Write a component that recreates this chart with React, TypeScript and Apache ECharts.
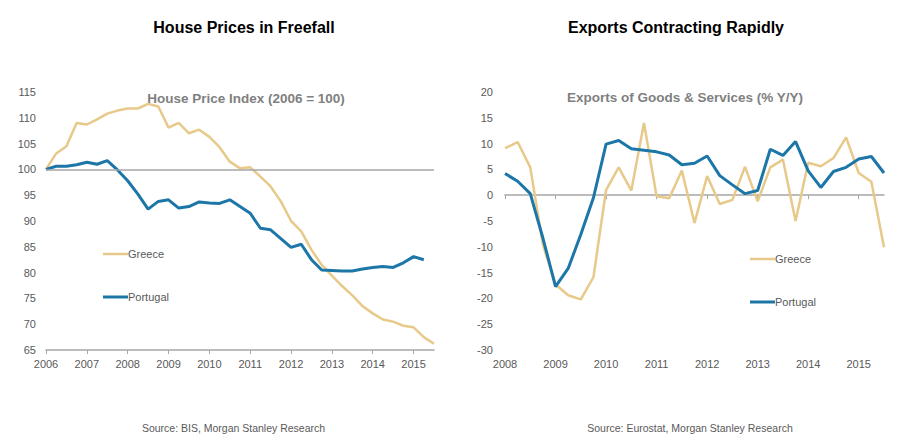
import { useEffect, useRef } from "react";
import * as echarts from "echarts";

// ---- Data ----
const QUARTERS = ["Q1", "Q2", "Q3", "Q4"];
const houseStartYear = 2006;
const exportStartYear = 2008;

// House Price Index (2006 = 100), quarterly from 2006 Q1
const greeceHouse = [
  100, 103.1, 104.5, 109.0, 108.7, 109.7, 110.8, 111.4, 111.8, 111.8, 112.7, 112.2,
  108.1, 109.0, 107.0, 107.7, 106.3, 104.3, 101.5, 100.2, 100.4, 98.6, 96.7, 93.8,
  90.0, 88.0, 84.4, 81.5, 79.4, 77.4, 75.6, 73.5, 72.1, 70.9, 70.5, 69.7, 69.4, 67.5, 66.2,
];
const portugalHouse = [
  100, 100.6, 100.6, 100.9, 101.4, 101.0, 101.7, 99.9, 97.8, 95.2, 92.3, 93.8,
  94.1, 92.5, 92.8, 93.7, 93.5, 93.4, 94.1, 92.8, 91.5, 88.6, 88.3, 86.6,
  84.9, 85.5, 82.5, 80.5, 80.4, 80.3, 80.3, 80.7, 81.0, 81.2, 81.0, 81.9, 83.1, 82.5,
];

// Exports of Goods & Services (% Y/Y), quarterly from 2008 Q1
const greeceExports = [
  9.1, 10.3, 5.4, -9.6, -17.3, -19.4, -20.2, -15.9, 1.0, 5.4, 0.9, 14.0,
  -0.2, -0.6, 4.8, -5.4, 3.7, -1.7, -0.9, 5.5, -1.2, 5.4, 6.9, -5.0,
  6.3, 5.6, 7.2, 11.2, 4.3, 2.6, -10.1,
];
const portugalExports = [
  4.2, 2.7, 0.3, -8.3, -17.7, -14.2, -7.6, -0.5, 9.9, 10.6, 9.0, 8.7,
  8.4, 7.8, 5.9, 6.2, 7.6, 3.8, 2.0, 0.3, 0.9, 8.9, 7.7, 10.4,
  4.7, 1.5, 4.6, 5.4, 7.0, 7.5, 4.3,
];

const seriesNames = ["Greece", "Portugal"];
const houseTitle = "House Prices in Freefall";
const exportTitle = "Exports Contracting Rapidly";
const houseSubtitle = "House Price Index (2006 = 100)";
const exportSubtitle = "Exports of Goods & Services (% Y/Y)";
const houseSource = "Source: BIS, Morgan Stanley Research";
const exportSource = "Source: Eurostat, Morgan Stanley Research";

function buildQuarters(startYear: number, count: number): string[] {
  const out: string[] = [];
  for (let i = 0; i < count; i++) {
    out.push(`${startYear + Math.floor(i / 4)} ${QUARTERS[i % 4]}`);
  }
  return out;
}

const houseCats = buildQuarters(houseStartYear, greeceHouse.length);
const exportCats = buildQuarters(exportStartYear, greeceExports.length);

const GREECE = "#E7C98A";
const PORTUGAL = "#1C76A8";
const AXIS = "#A6A6A6";
const LABEL = "#595959";
const FONT = '"Liberation Sans", Arial, Helvetica, sans-serif';
const GREECE_W = 2.5;
const PORTUGAL_W = 3;

function legendItems(x: number, y1: number, y2: number): any[] {
  const items: any[] = [];
  const rows: [string, string, number, number][] = [
    [seriesNames[0], GREECE, GREECE_W, y1],
    [seriesNames[1], PORTUGAL, PORTUGAL_W, y2],
  ];
  for (const [name, color, w, y] of rows) {
    items.push({
      type: "line",
      shape: { x1: x, y1: y, x2: x + 25, y2: y },
      style: { stroke: color, lineWidth: w },
    });
    items.push({
      type: "text",
      x: x + 25,
      y,
      style: { text: name, fill: LABEL, font: `11px ${FONT}`, textAlign: "left", textVerticalAlign: "middle" },
    });
  }
  return items;
}

export default function App() {
  const ref = useRef<HTMLDivElement>(null);

  useEffect(() => {
    if (!ref.current) return;
    const chart = echarts.init(ref.current, undefined, { renderer: "svg" });

    const yearLabel = (v: string) => v.slice(0, 4);
    const axisLabelBase = { color: LABEL, fontSize: 11, fontFamily: FONT };

    const option: any = {
      animation: false,
      backgroundColor: "#ffffff",
      textStyle: { fontFamily: FONT },
      grid: [
        { left: 46, top: 92, width: 388, height: 258 },
        { left: 505, top: 92, width: 379, height: 258 },
      ],
      xAxis: [
        {
          gridIndex: 0,
          type: "category",
          data: houseCats,
          boundaryGap: false,
          position: "bottom",
          axisLine: { onZero: false, lineStyle: { color: AXIS, width: 1.5 } },
          axisTick: { interval: 3, length: 4, lineStyle: { color: AXIS } },
          axisLabel: { ...axisLabelBase, interval: 3, margin: 8, formatter: yearLabel },
          splitLine: { show: false },
        },
        {
          gridIndex: 1,
          type: "category",
          data: exportCats,
          boundaryGap: false,
          position: "bottom",
          axisLine: { show: false, onZero: false },
          axisTick: { show: false },
          axisLabel: { ...axisLabelBase, interval: 3, margin: 8, formatter: yearLabel },
          splitLine: { show: false },
        },
        {
          gridIndex: 1,
          type: "category",
          data: exportCats,
          boundaryGap: false,
          position: "bottom",
          axisLine: { onZero: true, lineStyle: { color: AXIS, width: 1.5 } },
          axisTick: { interval: 3, length: 4, lineStyle: { color: AXIS } },
          axisLabel: { show: false },
          splitLine: { show: false },
        },
      ],
      yAxis: [
        {
          gridIndex: 0,
          type: "value",
          min: 65,
          max: 115,
          interval: 5,
          axisLine: { show: false },
          axisTick: { show: false },
          splitLine: { show: false },
          axisLabel: { ...axisLabelBase, margin: 10 },
        },
        {
          gridIndex: 1,
          type: "value",
          min: -30,
          max: 20,
          interval: 5,
          axisLine: { show: false },
          axisTick: { show: false },
          splitLine: { show: false },
          axisLabel: { ...axisLabelBase, margin: 12 },
        },
      ],
      series: [
        {
          name: seriesNames[0],
          type: "line",
          xAxisIndex: 0,
          yAxisIndex: 0,
          data: greeceHouse,
          symbol: "none",
          color: GREECE,
          lineStyle: { color: GREECE, width: GREECE_W },
          z: 2,
          markLine: {
            silent: true,
            symbol: "none",
            label: { show: false },
            lineStyle: { color: AXIS, width: 1.5, type: "solid" },
            data: [{ yAxis: 100 }],
          },
        },
        {
          name: seriesNames[1],
          type: "line",
          xAxisIndex: 0,
          yAxisIndex: 0,
          data: portugalHouse,
          symbol: "none",
          color: PORTUGAL,
          lineStyle: { color: PORTUGAL, width: PORTUGAL_W },
          z: 3,
        },
        {
          name: seriesNames[0],
          type: "line",
          xAxisIndex: 1,
          yAxisIndex: 1,
          data: greeceExports,
          symbol: "none",
          color: GREECE,
          lineStyle: { color: GREECE, width: GREECE_W },
          z: 2,
        },
        {
          name: seriesNames[1],
          type: "line",
          xAxisIndex: 1,
          yAxisIndex: 1,
          data: portugalExports,
          symbol: "none",
          color: PORTUGAL,
          lineStyle: { color: PORTUGAL, width: PORTUGAL_W },
          z: 3,
        },
      ],
      graphic: [
        {
          type: "text",
          x: 244,
          y: 27,
          style: { text: houseTitle, fill: "#000", font: `bold 16px ${FONT}`, textAlign: "center", textVerticalAlign: "middle" },
        },
        {
          type: "text",
          x: 676,
          y: 27,
          style: { text: exportTitle, fill: "#000", font: `bold 16px ${FONT}`, textAlign: "center", textVerticalAlign: "middle" },
        },
        {
          type: "text",
          x: 246,
          y: 98,
          style: { text: houseSubtitle, fill: "#808080", font: `bold 13.5px ${FONT}`, textAlign: "center", textVerticalAlign: "middle" },
        },
        {
          type: "text",
          x: 685,
          y: 97,
          style: { text: exportSubtitle, fill: "#808080", font: `bold 13.5px ${FONT}`, textAlign: "center", textVerticalAlign: "middle" },
        },
        {
          type: "text",
          x: 233.5,
          y: 428,
          style: { text: houseSource, fill: LABEL, font: `10.5px ${FONT}`, textAlign: "center", textVerticalAlign: "middle" },
        },
        {
          type: "text",
          x: 690,
          y: 428,
          style: { text: exportSource, fill: LABEL, font: `10.5px ${FONT}`, textAlign: "center", textVerticalAlign: "middle" },
        },
        ...legendItems(103, 254, 297),
        ...legendItems(750, 259, 302),
      ],
    };

    chart.setOption(option);
    return () => chart.dispose();
  }, []);

  return (
    <div
      ref={ref}
      style={{ position: "fixed", left: 0, top: 0, width: 908, height: 441, background: "#fff" }}
    />
  );
}
